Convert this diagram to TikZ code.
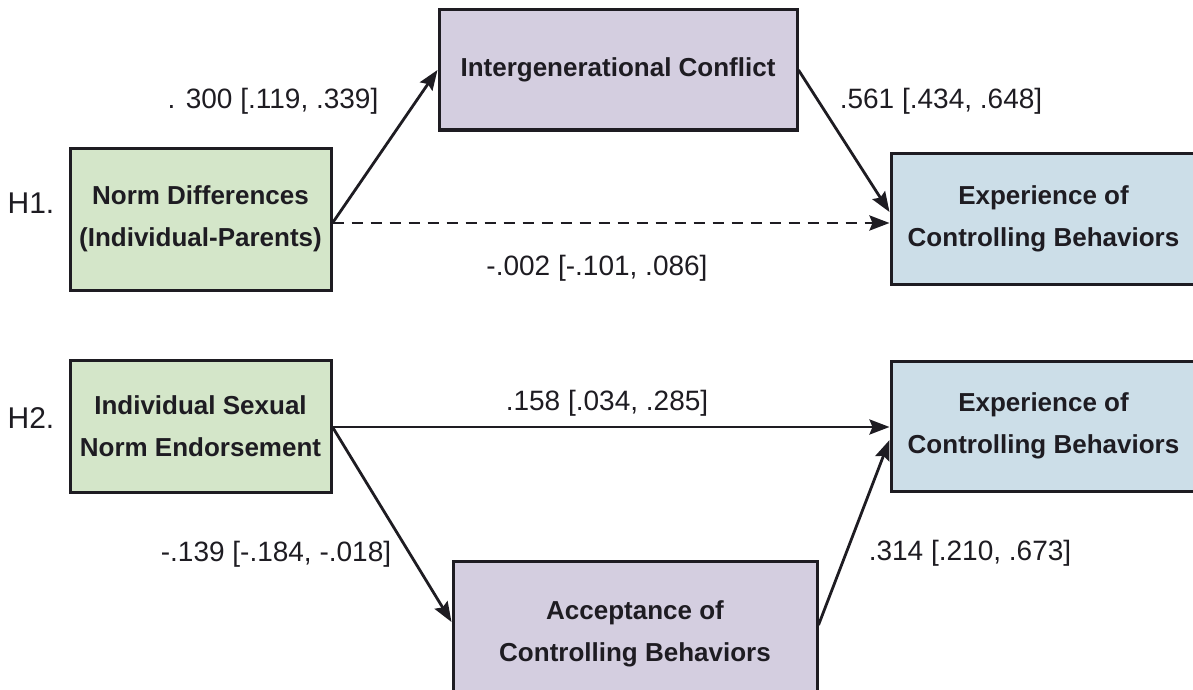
\documentclass[tikz,border=0pt]{standalone}
\usepackage{fontspec}
\setmainfont{Liberation Sans}
\usetikzlibrary{arrows.meta}
\definecolor{boxgreen}{RGB}{212,230,201}
\definecolor{boxpurple}{RGB}{212,206,224}
\definecolor{boxblue}{RGB}{204,222,232}
\definecolor{ink}{RGB}{30,28,34}
\tikzset{
  varbox/.style={draw=ink, line width=3pt, rectangle, inner sep=0pt, align=center,
    font=\fontsize{26}{42}\selectfont\bfseries, text=ink},
  path/.style={draw=ink, line width=2.8pt, -{Stealth[length=20pt,width=15pt,inset=3pt]}},
  dpath/.style={path, dash pattern=on 11pt off 8pt},
  coef/.style={font=\fontsize{28}{30}\selectfont, text=ink, inner sep=0pt},
  hyp/.style={font=\fontsize{30}{30}\selectfont, text=ink, inner sep=0pt}
}
\begin{document}
\begin{tikzpicture}[x=1pt,y=-1pt]
\useasboundingbox (0,0) rectangle (1193,690);
\clip (0,0) rectangle (1193,690);
% boxes
\node[varbox, fill=boxgreen, minimum width=261pt, minimum height=142pt] (nd) at (200.5,219) {Norm Differences\\(Individual-Parents)};
\node[varbox, fill=boxpurple, minimum width=358pt, minimum height=120pt] (ic) at (618,70) {Intergenerational Conflict};
\node[varbox, fill=boxblue, minimum width=305pt, minimum height=131pt] (ex1) at (1043.5,218.5) {Experience of\\Controlling Behaviors};
\node[varbox, fill=boxgreen, minimum width=261pt, minimum height=132pt] (is) at (200.5,426) {Individual Sexual\\Norm Endorsement};
\node[varbox, fill=boxblue, minimum width=305pt, minimum height=130pt] (ex2) at (1043.5,426) {Experience of\\Controlling Behaviors};
\node[varbox, fill=boxpurple, minimum width=364pt, minimum height=146pt] (acc) at (635,634) {Acceptance of\\Controlling Behaviors};
% hypothesis labels
\node[hyp] (h1) at (31,203) {H1.};
\node[hyp] (h2) at (31,418) {H2.};
% paths
\draw[path] ([yshift=-4pt]nd.east) -- (ic.west);
\draw[dpath] ([yshift=-4pt]nd.east) -- ([yshift=-4.5pt]ex1.west);
\draw[path] (ic.east) -- ([yshift=6.5pt]ex1.west);
\draw[path] ([yshift=-1pt]is.east) -- ([yshift=-1pt]ex2.west);
\draw[path] ([yshift=-1pt]is.east) -- ([yshift=12pt]acc.west);
\draw[path] ([yshift=9pt]acc.east) -- ([yshift=-14pt]ex2.west);
% coefficients
\node[coef] (c1) at (273,101) {. 300 [.119, .339]};
\node[coef] (c2) at (941,101) {.561 [.434, .648]};
\node[coef] (c3) at (597,268) {-.002 [-.101, .086]};
\node[coef] (c4) at (607,403) {.158 [.034, .285]};
\node[coef] (c5) at (276,554) {-.139 [-.184, -.018]};
\node[coef] (c6) at (970,553) {.314 [.210, .673]};
\end{tikzpicture}
\end{document}
